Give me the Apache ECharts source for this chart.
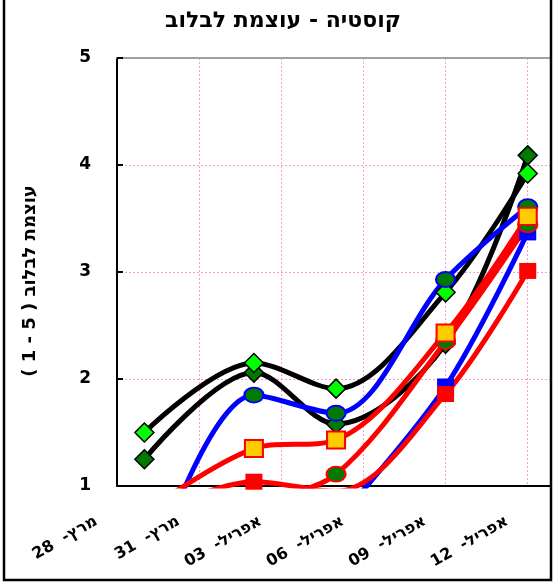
<!DOCTYPE html>
<html><head><meta charset="utf-8">
<script src="https://cdn.jsdelivr.net/npm/echarts@6/dist/echarts.min.js"></script>
<style>html,body{margin:0;padding:0;background:#fff}#c{width:556px;height:584px}</style>
</head><body><div id="c"></div><script>
// ---- data ----
const chartTitle = 'קוסטיה - עוצמת לבלוב';
const yAxisTitle = '( 1 - 5 ) עוצמת לבלוב';
const tickDays = [0, 3, 6, 9, 12, 15];               // days after 28 Mar
const tickLabels = ['28  -מרץ', '31  -מרץ', '03  -אפריל', '06  -אפריל', '09  -אפריל', '12  -אפריל'];
const pointDays = [1, 5, 8, 12, 15];                 // 29 Mar, 2 Apr, 5 Apr, 9 Apr, 12 Apr
const darkDiamond  = [1.25, 2.06, 1.58, 2.33, 4.09];
const lightDiamond = [1.50, 2.15, 1.91, 2.81, 3.92];
const blueSquare   = [null, null, 0.67, 1.93, 3.37];
const redSquare    = [0.70, 1.04, 0.95, 1.86, 3.01];
const blueCircle   = [0.00, 1.85, 1.68, 2.93, 3.61];
const redCircle    = [null, 0.85, 1.11, 2.35, 3.44];
const yellowSquare = [0.75, 1.35, 1.43, 2.43, 3.52];

const FONT = 'DejaVu Sans';
const ellipse = 'path://M0,50 A50,50 0 1,0 100,50 A50,50 0 1,0 0,50 Z';
function pts(arr) { return pointDays.map((d, i) => [d, arr[i]]); }
function mk(name, arr, lineColor, symbol, size, fill, border, bw) {
  return {
    name, type: 'line', data: pts(arr), smooth: 0.33, clip: true,
    lineStyle: { color: lineColor, width: 5 },
    symbol, symbolSize: size, showSymbol: true,
    itemStyle: { color: fill, borderColor: border, borderWidth: bw },
    emphasis: { disabled: true }, silent: true
  };
}

const chart = echarts.init(document.getElementById('c'), null, { renderer: 'canvas' });
chart.setOption({
  animation: false,
  backgroundColor: '#fff',
  grid: { left: 117, right: 5, top: 58, bottom: 98, containLabel: false },
  graphic: [
    { type: 'text', x: 283, y: 21, z: 10,
      style: { text: chartTitle, textAlign: 'center', textVerticalAlign: 'middle',
               font: 'bold 22px "' + FONT + '"', fill: '#000' } },
    { type: 'rect', z: 100, silent: true,
      shape: { x: 4, y: -5, width: 547, height: 585 },
      style: { fill: 'none', stroke: '#000', lineWidth: 2.5 } }
  ],
  xAxis: [{
    type: 'value', min: 0, max: 15.85, interval: 3,
    axisLine: { show: true, onZero: false, lineStyle: { color: '#000', width: 2 } },
    axisTick: { show: false },
    splitLine: { show: true, lineStyle: { color: '#ff99cc', width: 1, type: [2, 2] } },
    axisLabel: {
      rotate: 30, margin: 22, padding: [0, 24, 0, 0],
      fontFamily: FONT, fontWeight: 'bold', fontSize: 16, color: '#000',
      showMaxLabel: false,
      formatter: v => { const i = tickDays.indexOf(Math.round(v * 100) / 100); return i >= 0 ? tickLabels[i] : ''; }
    }
  }, {
    type: 'value', position: 'top', min: 0, max: 15.85,
    axisLine: { show: true, onZero: false, lineStyle: { color: '#a0a0a0', width: 2 } },
    axisTick: { show: false }, axisLabel: { show: false }, splitLine: { show: false }
  }],
  yAxis: {
    type: 'value', min: 1, max: 5, interval: 1,
    axisLine: { show: true, onZero: false, lineStyle: { color: '#000', width: 2 } },
    axisTick: { show: true, inside: true, length: 6, lineStyle: { color: '#000', width: 2 } },
    splitLine: { show: true, lineStyle: { color: '#ff99cc', width: 1, type: [2, 2] } },
    axisLabel: { margin: 26, fontFamily: FONT, fontWeight: 'bold', fontSize: 17, color: '#000' },
    name: yAxisTitle, nameLocation: 'middle', nameGap: 78,
    nameTextStyle: { fontFamily: FONT, fontWeight: 'bold', fontSize: 18, color: '#000', padding: [0, 18, 0, 0] }
  },
  series: [
    mk('darkDiamond', darkDiamond, '#000', 'diamond', 19, '#007a00', '#000', 1.5),
    mk('lightDiamond', lightDiamond, '#000', 'diamond', 19, '#00ff00', '#000', 1.5),
    mk('blueSquare', blueSquare, '#0000ff', 'rect', [17, 16], '#0000ff', '#0000ff', 0),
    mk('redSquare', redSquare, '#ff0000', 'rect', [17, 16], '#ff0000', '#ff0000', 0),
    mk('blueCircle', blueCircle, '#0000ff', ellipse, [19, 15], '#007a00', '#0000ff', 2),
    mk('redCircle', redCircle, '#ff0000', ellipse, [19, 15], '#007a00', '#ff0000', 2),
    mk('yellowSquare', yellowSquare, '#ff0000', 'rect', [18, 17], '#ffcc00', '#ff0000', 2)
  ]
});
</script></body></html>
